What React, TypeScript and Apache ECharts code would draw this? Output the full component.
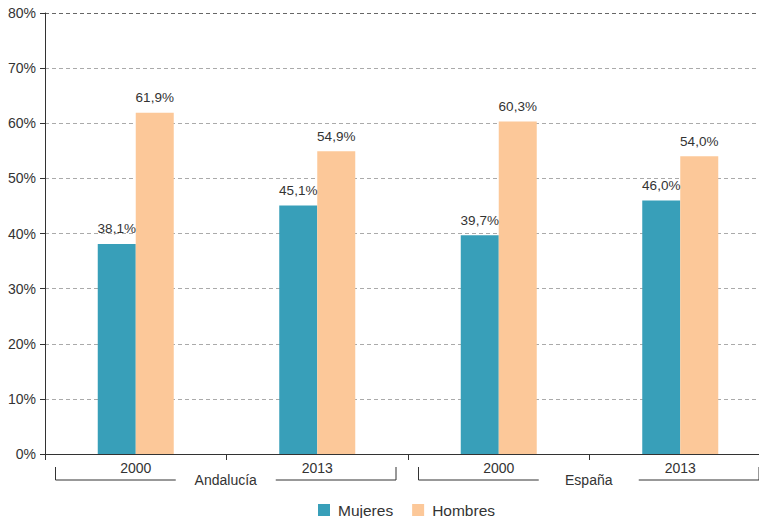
import React, { useEffect, useRef } from "react";
import * as echarts from "echarts";

const categories = ["2000", "2013", "2000", "2013"];
const groups = ["Andalucía", "España"];
const seriesNames = ["Mujeres", "Hombres"];
const mujeres = [38.1, 45.1, 39.7, 46.0];
const hombres = [61.9, 54.9, 60.3, 54.0];
const yTicks = [0, 10, 20, 30, 40, 50, 60, 70, 80];

const FONT = "'Liberation Sans', Arial, Helvetica, sans-serif";
const TEXT = "#333";

export default function App() {
  const ref = useRef<HTMLDivElement>(null);
  useEffect(() => {
    if (!ref.current) return;
    const chart = echarts.init(ref.current, undefined, { renderer: "svg" });
    const fmt = (v: number) => v.toFixed(1).replace(".", ",") + "%";
    chart.setOption({
      animation: false,
      textStyle: { fontFamily: FONT },
      grid: { left: 45, top: 13, width: 726, height: 441, containLabel: false },
      legend: {
        data: seriesNames,
        left: 313,
        top: 497,
        itemWidth: 12,
        itemHeight: 12,
        itemGap: 19,
        icon: "rect",
        textStyle: { fontSize: 15.5, color: TEXT, fontFamily: FONT, padding: [0, 0, 0, 3] },
      },
      xAxis: {
        type: "category",
        data: categories,
        axisLine: { lineStyle: { color: "#333", width: 1 } },
        axisTick: { show: true, length: 6, alignWithLabel: false, lineStyle: { color: "#333" } },
        axisLabel: { fontSize: 14, color: TEXT, margin: 7, fontFamily: FONT },
      },
      yAxis: {
        type: "value",
        min: yTicks[0],
        max: yTicks[yTicks.length - 1],
        interval: 10,
        axisLine: { show: true, lineStyle: { color: "#333", width: 1 } },
        axisTick: { show: true, length: 5, lineStyle: { color: "#333" } },
        axisLabel: { formatter: "{value}%", fontSize: 14, color: TEXT, margin: 9, fontFamily: FONT },
        splitLine: {
          show: true,
          lineStyle: {
            type: [4, 3],
            color: ["#aaa", "#aaa", "#aaa", "#aaa", "#aaa", "#aaa", "#aaa", "#aaa", "#666"],
            width: 1,
          },
        },
      },
      series: [
        {
          name: seriesNames[0],
          type: "bar",
          data: mujeres,
          barWidth: 38,
          barGap: "0%",
          itemStyle: { color: "#389fb9" },
          label: { show: true, position: "top", distance: 8, formatter: (p: any) => fmt(p.value), fontSize: 13.5, color: TEXT, fontFamily: FONT },
        },
        {
          name: seriesNames[1],
          type: "bar",
          data: hombres,
          barWidth: 38,
          itemStyle: { color: "#fcc899" },
          label: { show: true, position: "top", distance: 8, formatter: (p: any) => fmt(p.value), fontSize: 13.5, color: TEXT, fontFamily: FONT },
        },
      ],
    });

    // group brackets computed from axis scale
    const x0 = chart.convertToPixel({ xAxisIndex: 0 }, 0) as number;
    const x1 = chart.convertToPixel({ xAxisIndex: 0 }, 1) as number;
    const step = x1 - x0;
    const yBase = chart.convertToPixel({ yAxisIndex: 0 }, 0) as number;
    const elements: any[] = [];
    groups.forEach((g, gi) => {
      const left = x0 - step / 2 + gi * 2 * step + 10.5;
      const right = x0 - step / 2 + (gi + 1) * 2 * step - 12;
      const center = (left + right) / 2;
      const yLine = yBase + 26;
      const yTop = yBase + 13;
      const gap = 50;
      elements.push({
        type: "polyline",
        shape: { points: [[left, yTop], [left, yLine], [center - gap, yLine]] },
        style: { stroke: "#333", lineWidth: 1, fill: null },
        silent: true,
      });
      elements.push({
        type: "polyline",
        shape: { points: [[center + gap, yLine], [right, yLine], [right, yTop]] },
        style: { stroke: "#333", lineWidth: 1, fill: null },
        silent: true,
      });
      elements.push({
        type: "text",
        x: center,
        y: yLine,
        style: { text: g, fontSize: 14, fill: TEXT, align: "center", verticalAlign: "middle", fontFamily: FONT },
        silent: true,
      });
    });
    chart.setOption({ graphic: elements });

    return () => chart.dispose();
  }, []);
  return (
    <div style={{ width: 759, height: 518, position: "absolute", left: 0, top: 0, overflow: "hidden" }}>
      <div ref={ref} style={{ width: 780, height: 518 }} />
    </div>
  );
}
